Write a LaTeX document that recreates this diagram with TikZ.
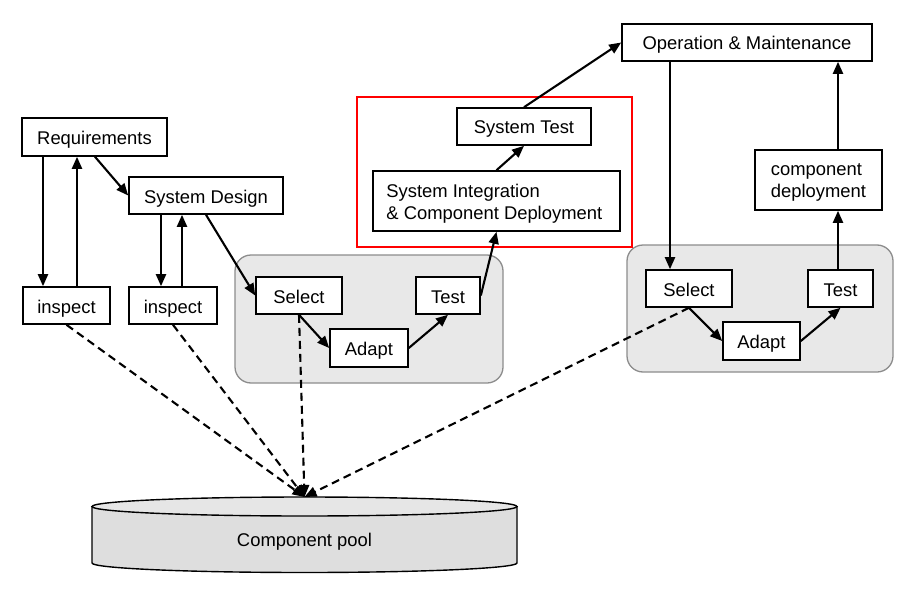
\documentclass[tikz,border=0pt]{standalone}
\usepackage{fontspec}
\setmainfont{Liberation Sans}
\usetikzlibrary{arrows.meta}
\definecolor{grpfill}{HTML}{E8E8E8}
\definecolor{grpline}{HTML}{8C8C8C}
\definecolor{poolfill}{HTML}{DEDEDE}
\definecolor{pooltopfill}{HTML}{E6E6E6}
\begin{document}
\begin{tikzpicture}[x=1pt,y=-1pt,
  box/.style={draw=black, line width=1.6pt, fill=white, inner sep=0pt,
              font=\fontsize{18.4}{22}\selectfont, align=center,
              text height=17pt, text depth=2pt},
  mbox/.style={draw=black, line width=1.6pt, fill=white, inner sep=0pt},
  lbl/.style={inner sep=0pt, font=\fontsize{18.4}{22}\selectfont, align=left},
  arr/.style={line width=2.1pt, -{Triangle[length=12pt,width=10pt]}},
  dsh/.style={line width=2.1pt, dash pattern=on 8pt off 5pt,
              -{Triangle[length=12pt,width=10pt]}},
  grp/.style={draw=grpline, fill=grpfill, line width=1.3pt, rounded corners=16pt}]
\useasboundingbox (0,0) rectangle (923,591);

% group boxes
\draw[grp] (235,255) rectangle (503,383);
\draw[grp] (627,245) rectangle (893,372);
\draw[red, line width=1.6pt] (357,97) rectangle (632,247);

% component pool
\fill[poolfill] (92,506.5) -- (92,563)
  arc[start angle=180, end angle=360, x radius=212.5pt, y radius=9.5pt]
  -- (517,506.5) -- cycle;
\draw[line width=1.4pt] (92,506.5) -- (92,563)
  arc[start angle=180, end angle=360, x radius=212.5pt, y radius=9.5pt]
  -- (517,506.5);
\draw[line width=1.4pt, fill=pooltopfill] (304.5,506.5) ellipse[x radius=212.5pt, y radius=9.5pt];
\node[font=\fontsize{18.4}{22}\selectfont] (pool) at (304.5,541.5) {Component pool};
\coordinate (pooltop) at (304.5,497);

% nodes
\node[box, minimum width=145pt, minimum height=38pt] (req) at (94.5,137) {Requirements};
\node[box, minimum width=154pt, minimum height=37pt] (sd) at (206,195.5) {System Design};
\node[box, minimum width=87pt, minimum height=37pt] (insp1) at (66.5,305.5) {inspect};
\node[box, minimum width=88pt, minimum height=37pt] (insp2) at (173,305.5) {inspect};
\node[box, minimum width=86pt, minimum height=37pt] (sel1) at (299,295.5) {Select};
\node[box, minimum width=78pt, minimum height=38pt] (ada1) at (369,348) {Adapt};
\node[box, minimum width=64pt, minimum height=37pt] (tst1) at (448,295.5) {Test};
\node[box, minimum width=134pt, minimum height=37pt] (systest) at (524,126.5) {System Test};
\node[mbox, minimum width=247pt, minimum height=60pt] (sysint) at (496.5,201) {};
\node[lbl, anchor=west] (sysintlbl) at ([xshift=14pt,yshift=-2.5pt]sysint.west)
  {System Integration\\\& Component Deployment};
\node[box, minimum width=250pt, minimum height=37pt] (om) at (747,42.5) {Operation \& Maintenance};
\node[box, minimum width=86pt, minimum height=37pt] (sel2) at (689,288.5) {Select};
\node[box, minimum width=77pt, minimum height=38pt] (ada2) at (761.5,341) {Adapt};
\node[box, minimum width=65pt, minimum height=37pt] (tst2) at (840.5,288.5) {Test};
\node[mbox, minimum width=127pt, minimum height=60pt] (cd) at (818.5,180) {};
\node[lbl] (cdlbl) at ([yshift=-2.5pt]cd.center) {component\\deployment};

% solid connectors
\draw[arr] (req.south -| 43,0) -- (insp1.north -| 43,0);
\draw[arr] (insp1.north -| 77,0) -- (req.south -| 77,0);
\draw[arr] (req.south -| 95,0) -- (sd.west);
\draw[arr] (sd.south -| 161,0) -- (insp2.north -| 161,0);
\draw[arr] (insp2.north -| 182,0) -- (sd.south -| 182,0);
\draw[arr] (sd.south) -- (sel1.west);
\draw[arr] (sel1.south) -- (ada1.west);
\draw[arr] (ada1.east) -- (tst1.south);
\draw[arr] (tst1.east) -- (sysint.south);
\draw[arr] (sysint.north) -- (systest.south);
\draw[arr] (systest.north) -- (om.west);
\draw[arr] (om.south -| 670,0) -- (sel2.north -| 670,0);
\draw[arr] (sel2.south) -- (ada2.west);
\draw[arr] (ada2.east) -- (tst2.south);
\draw[arr] (tst2.north -| 838,0) -- (cd.south -| 838,0);
\draw[arr] (cd.north -| 838,0) -- (om.south -| 838,0);

% dashed connectors to the pool
\draw[dsh] (insp1.south) -- (pooltop);
\draw[dsh] (insp2.south) -- (pooltop);
\draw[dsh] (sel1.south) -- (pooltop);
\draw[dsh] (sel2.south) -- (pooltop);
\end{tikzpicture}
\end{document}
